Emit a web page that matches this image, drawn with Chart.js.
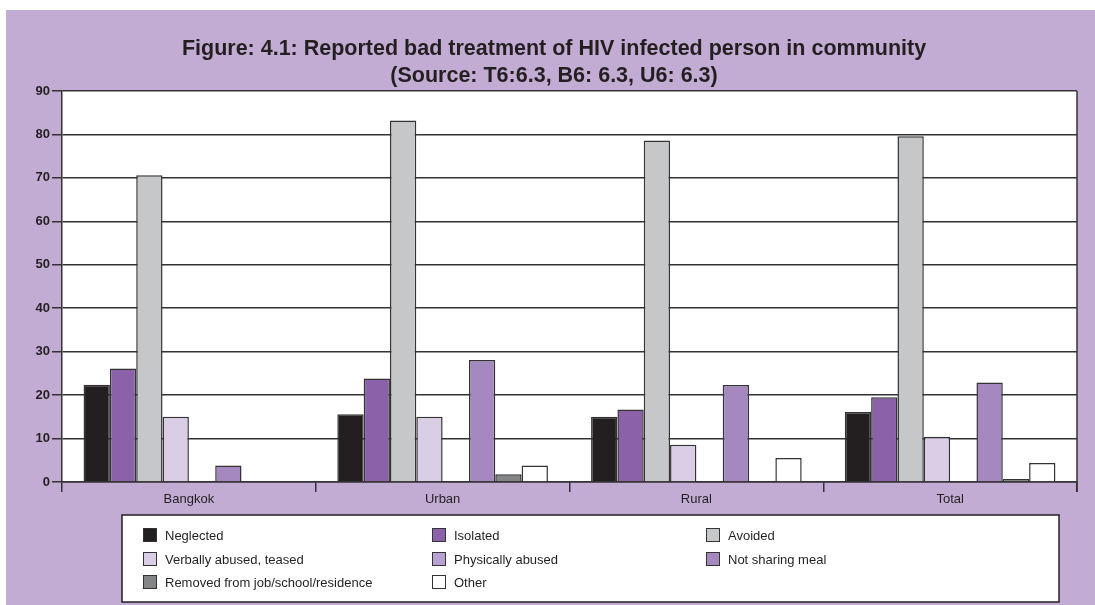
<!DOCTYPE html>
<html>
<head>
<meta charset="utf-8">
<script src="https://cdn.jsdelivr.net/npm/chart.js@4.4.1/dist/chart.umd.min.js"></script>
<style>
    html, body { margin: 0; padding: 0; background: #fff; }
    #wrap { width: 1095px; height: 605px; }
</style>
</head>
<body>
<div id="wrap"><canvas id="treatmentChart" width="1095" height="605"></canvas></div>
<script>
// reported bad treatment, % of respondents
const regions = ['Bangkok', 'Urban', 'Rural', 'Total'];
const seriesNames = [
    'Neglected', 'Isolated', 'Avoided',
    'Verbally abused, teased', 'Physically abused', 'Not sharing meal',
    'Removed from job/school/residence', 'Other'
];
const neglected = [22.4, 15.6, 15.0, 16.1];
const isolated  = [26.1, 23.8, 16.7, 19.5];
const avoided   = [70.6, 83.2, 78.6, 79.6];
const verbally  = [15.0, 15.0, 8.6, 10.4];
const physically = [0, 0, 0, 0];
const noMeal    = [3.8, 28.1, 22.3, 22.9];
const removed   = [0, 1.8, 0, 0.7];
const other     = [0, 3.8, 5.5, 4.4];
const yTickStep = 10;
const yMax = 90;

const seriesColors = ['#231f20', '#8b62a9', '#c6c7c9', '#dacde6', '#b7a0d2', '#a688c1', '#848587', '#ffffff'];
const seriesValues = [neglected, isolated, avoided, verbally, physically, noMeal, removed, other];

const FONT = "'Liberation Sans', Arial, sans-serif";
const INK = '#231f20';
const LINE = '#333333';
const PANEL = '#c3acd4';

const panelBackground = {
    id: 'panelBackground',
    beforeDraw(chart) {
        const c = chart.ctx;
        const a = chart.chartArea;
        c.save();
        c.fillStyle = '#ffffff';
        c.fillRect(0, 0, chart.width, chart.height);
        c.fillStyle = PANEL;
        c.fillRect(6, 10, chart.width - 6, chart.height - 10);
        c.fillStyle = '#ffffff';
        c.fillRect(a.left, a.top, a.right - a.left, a.bottom - a.top);
        c.restore();
    }
};

const titleLines = {
    id: 'titleLines',
    afterDraw(chart) {
        const c = chart.ctx;
        c.save();
        c.fillStyle = INK;
        c.font = 'bold 21.5px ' + FONT;
        c.textAlign = 'center';
        c.textBaseline = 'middle';
        c.fillText('Figure: 4.1: Reported bad treatment of HIV infected person in community', 554, 49);
        c.fillText('(Source: T6:6.3, B6: 6.3, U6: 6.3)', 554, 76);
        c.restore();
    }
};

const plotFrame = {
    id: 'plotFrame',
    afterDraw(chart) {
        const c = chart.ctx;
        const a = chart.chartArea;
        c.save();
        c.strokeStyle = LINE;
        c.lineWidth = 1.5;
        c.beginPath();
        c.moveTo(a.right, a.top);
        c.lineTo(a.right, a.bottom + 10);
        c.stroke();
        c.restore();
    }
};

// three-column legend box under the axis
const gridLegend = {
    id: 'gridLegend',
    afterDraw(chart) {
        const c = chart.ctx;
        const colX = [143, 432, 706];
        const rowY = [535, 559, 582];
        c.save();
        c.fillStyle = '#ffffff';
        c.fillRect(122, 515, 937, 87);
        c.strokeStyle = INK;
        c.lineWidth = 1.5;
        c.strokeRect(122, 515, 937, 87);
        c.font = '13px ' + FONT;
        c.textBaseline = 'middle';
        chart.data.datasets.forEach((ds, i) => {
            const x = colX[i % 3];
            const y = rowY[Math.floor(i / 3)];
            c.fillStyle = ds.backgroundColor;
            c.fillRect(x, y - 7, 14, 14);
            c.strokeStyle = LINE;
            c.lineWidth = 1;
            c.strokeRect(x + 0.5, y - 6.5, 13, 13);
            c.fillStyle = INK;
            c.fillText(ds.label, x + 22, y + 1);
        });
        c.restore();
    }
};

const ctx = document.getElementById('treatmentChart').getContext('2d');
const chart = new Chart(ctx, {
    type: 'bar',
    plugins: [panelBackground, plotFrame, titleLines, gridLegend],
    data: {
        labels: regions,
        datasets: seriesNames.map((name, i) => ({
            label: name,
            data: seriesValues[i],
            backgroundColor: seriesColors[i],
            borderColor: LINE,
            borderWidth: 1.5,
            categoryPercentage: 0.83,
            barPercentage: 1.0
        }))
    },
    options: {
        responsive: false,
        animation: false,
        devicePixelRatio: 1,
        layout: {
            padding: { left: 0, right: 18, top: 91, bottom: 93 }
        },
        plugins: {
            legend: { display: false },
            title: { display: false },
            tooltip: { enabled: false }
        },
        scales: {
            x: {
                offset: true,
                grid: {
                    offset: true,
                    drawOnChartArea: false,
                    drawTicks: true,
                    tickLength: 10,
                    color: LINE,
                    lineWidth: 1.5
                },
                border: { display: true, color: LINE, width: 1.5 },
                ticks: {
                    color: INK,
                    padding: 0,
                    font: { family: FONT, size: 13 }
                },
                afterFit(scale) { scale.height = 30; }
            },
            y: {
                min: 0,
                max: yMax,
                ticks: {
                    stepSize: yTickStep,
                    color: INK,
                    padding: 2,
                    font: { family: FONT, size: 13, weight: 'bold' }
                },
                grid: {
                    color: LINE,
                    lineWidth: 1.5,
                    tickLength: 10
                },
                border: { display: true, color: LINE, width: 1.5 },
                afterFit(scale) { scale.width = 62; }
            }
        }
    }
});
</script>
</body>
</html>
